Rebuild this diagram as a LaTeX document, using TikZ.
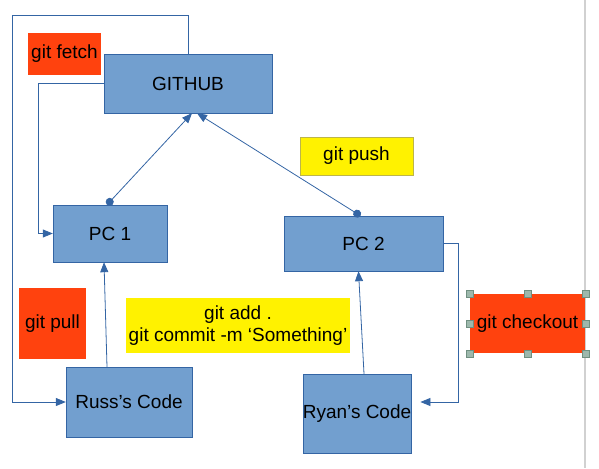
\documentclass[tikz,border=0pt]{standalone}
\usepackage{fontspec}
\setmainfont{Liberation Sans}
\usepackage{tikz}
\usetikzlibrary{calc}
\usetikzlibrary{arrows.meta}
\definecolor{boxblue}{HTML}{729FCF}
\definecolor{boxline}{HTML}{3465A4}
\definecolor{gitred}{HTML}{FF420E}
\definecolor{handlefill}{HTML}{9DB8AC}
\definecolor{handleline}{HTML}{6F8F80}
\begin{document}
\begin{tikzpicture}[x=1pt, y=-1pt, font=\fontsize{19}{22}\selectfont,
    box/.style={draw=boxline, fill=boxblue, inner sep=0pt, align=center},
    note/.style={inner sep=0pt, align=center},
    handle/.style={draw=handleline, fill=handlefill, minimum size=7pt, inner sep=0pt},
    link/.style={draw=boxline, line width=0.8pt, -{Triangle[length=10pt,width=8pt]}},
    dotlink/.style={link, {Circle[length=8pt]}-{Triangle[length=10pt,width=8pt]}}]
    \useasboundingbox (0,0) rectangle (599,468);
    \draw[black!18, line width=1.2pt] (585,0) -- (585,468);

    \node[note, fill=gitred, minimum width=73pt, minimum height=42pt](fetch) at (64.5,54) {git fetch};
    \node[box, minimum width=168pt, minimum height=59pt](github) at (188,83.5) {GITHUB};
    \node[note, fill=yellow, draw=olive!60, minimum width=113pt, minimum height=38pt](push) at (356.5,156) {git push};
    \node[box, minimum width=114pt, minimum height=57pt](pcone) at (110,233.5) {PC 1};
    \node[box, minimum width=159pt, minimum height=55pt](pctwo) at (363.5,243.5) {PC 2};
    \node[note, fill=gitred, minimum width=67pt, minimum height=71pt](pull) at (52.5,323.5) {git pull};
    \node[note, fill=yellow, minimum width=224pt, minimum height=55pt](addnote) at (238,325.5) {git add .\\git commit -m ‘Something’};
    \node[note, fill=gitred, minimum width=115pt, minimum height=59pt](checkout) at (527.5,323.5) {git checkout};
    \node[box, minimum width=126pt, minimum height=70pt](russ) at (129,402) {Russ’s Code};
    \node[box, minimum width=108pt, minimum height=79pt](ryan) at (357,413.5) {Ryan’s Code};

    \foreach \a in {north west, north, north east, east, south east, south, south west, west}
        \node[handle] at (checkout.\a) {};

    \coordinate (fetchtop) at (12,15);
    \draw[link] (github.north) |- (fetchtop) |- (russ.west);
    \draw[link] (github.west) -- ++(-65,0) |- (pcone.west);
    \draw[dotlink] ([xshift=-3pt]pcone.north) -- ([xshift=4pt]github.south);
    \draw[dotlink] ([xshift=-3pt]pctwo.north) -- ([xshift=9pt]github.south);
    \draw[link] ([xshift=-22pt]russ.north) -- ([xshift=-6pt]pcone.south);
    \draw[link] ([xshift=7pt]ryan.north) -- ([xshift=-5pt]pctwo.south);
    \draw[link] (pctwo.east) -- ++(15,0) |- ([xshift=9pt,yshift=11.5pt]ryan.east);
\end{tikzpicture}
\end{document}
